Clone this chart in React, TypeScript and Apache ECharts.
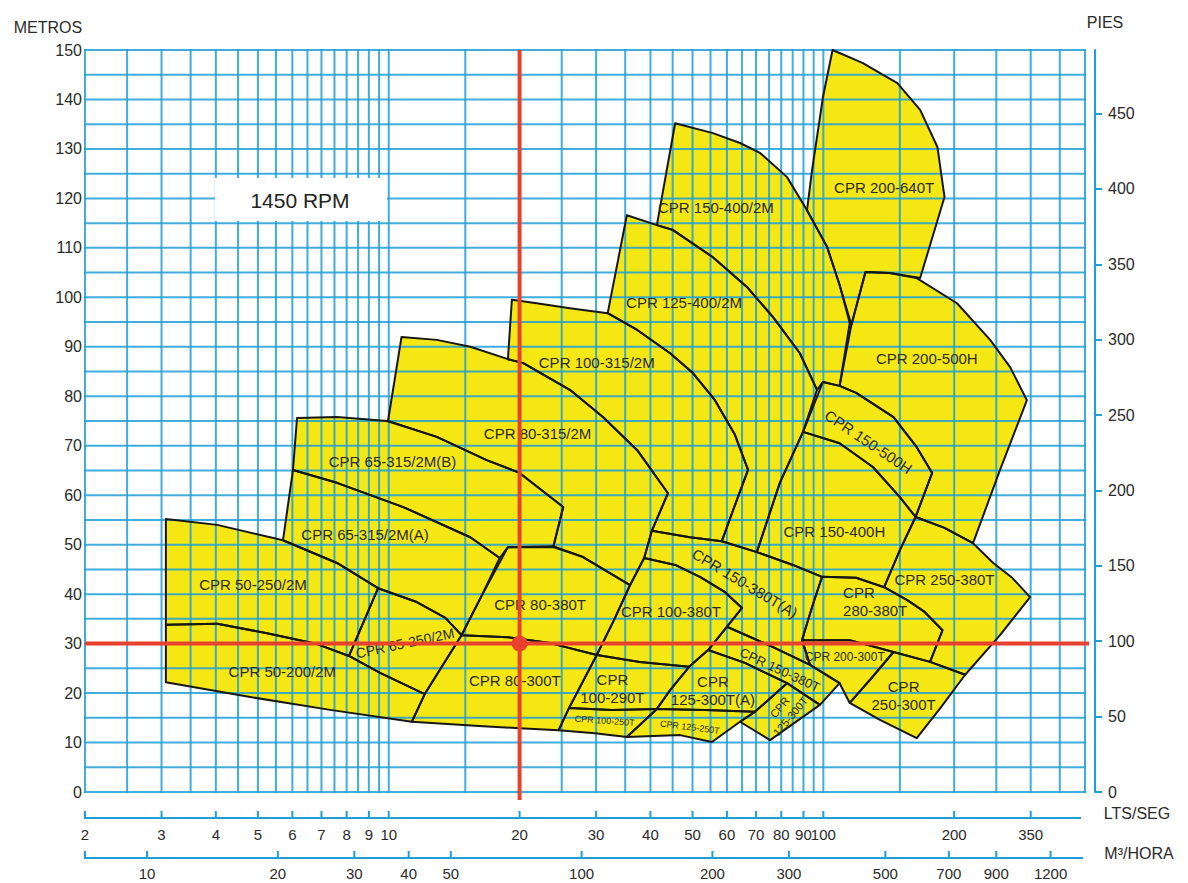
import React, { useEffect, useRef } from "react";
import * as echarts from "echarts";

const FONT = "Arial, 'Liberation Sans', Helvetica, sans-serif";
const BLUE = "#1f9fd8";
const YELLOW = "#f4e714";
const OUTLINE = "#161616";
const RED = "#e8412e";
const TEXT = "#2a2a2a";

// axis ranges: flow in l/s (log), head in metres
const flowMin = 2;
const flowMax = 400;
const headMin = 0;
const headMax = 150;
const feetPerMetre = 3.28084;
const m3hPerLps = 3.6;

const gridFlows = [2, 2.5, 3, 3.5, 4, 4.5, 5, 5.5, 6, 6.5, 7, 7.5, 8, 8.5, 9, 9.5, 10, 15, 20, 25, 30, 35, 40, 45, 50, 55, 60, 65, 70, 75, 80, 85, 90, 95, 100, 150, 200, 250, 300, 350, 400];
const gridHeads = [0, 5, 10, 15, 20, 25, 30, 35, 40, 45, 50, 55, 60, 65, 70, 75, 80, 85, 90, 95, 100, 105, 110, 115, 120, 125, 130, 135, 140, 145, 150];
const ltsTicks = [2, 3, 4, 5, 6, 7, 8, 9, 10, 20, 30, 40, 50, 60, 70, 80, 90, 100, 200, 300];
const ltsTickLabels = ["2", "3", "4", "5", "6", "7", "8", "9", "10", "20", "30", "40", "50", "60", "70", "80", "90", "100", "200", "350"];
const m3hTicks = [10, 20, 30, 40, 50, 100, 200, 300, 500, 700, 900, 1200];
const feetTicks = [0, 50, 100, 150, 200, 250, 300, 350, 400, 450];
const operatingPoint = [20, 30];

// pump coverage envelopes, [flow l/s, head m]
const cpr50_250_2M = [[3.07, 55.2], [4.03, 54.0], [5.71, 50.9], [7.6, 46.3], [9.45, 41.2], [8.1, 27.5], [6.84, 29.9], [5.25, 32.1], [4.03, 34.0], [3.07, 33.8]];
const cpr50_200_2M = [[3.07, 33.8], [4.03, 34.0], [5.25, 32.1], [6.84, 29.9], [8.1, 27.5], [9.55, 24.1], [12.1, 19.8], [11.3, 14.2], [7.33, 16.6], [4.8, 19.2], [3.07, 22.2]];
const cpr65_250_2M = [[9.45, 41.2], [11.6, 38.4], [13.5, 35.2], [14.7, 31.7], [12.1, 19.8], [9.55, 24.1], [8.1, 27.5]];
const cpr65_315_2MA = [[6.02, 65.1], [7.6, 62.5], [10.8, 57.6], [15.4, 51.5], [18.0, 47.3], [16.3, 39.4], [14.7, 31.7], [13.5, 35.2], [11.6, 38.4], [9.45, 41.2], [7.6, 46.3], [5.71, 50.9]];
const cpr65_315_2MB = [[6.15, 75.6], [7.6, 75.8], [9.91, 75.0], [12.9, 71.8], [16.8, 67.1], [20.0, 64.5], [25.2, 57.6], [23.9, 49.5], [18.8, 49.5], [18.0, 47.3], [15.4, 51.5], [10.8, 57.6], [7.6, 62.5], [6.02, 65.1]];
const cpr80_315_2M = [[10.7, 92.0], [12.9, 91.4], [15.4, 90.0], [18.8, 87.5], [20.4, 86.7], [26.1, 81.3], [31.1, 75.8], [37.3, 69.1], [43.9, 60.4], [40.3, 52.8], [38.7, 47.3], [35.9, 41.8], [28.0, 47.5], [23.9, 49.5], [25.2, 57.6], [20.0, 64.5], [16.8, 67.1], [12.9, 71.8], [9.96, 75.0]];
const cpr80_380T = [[18.8, 49.5], [23.9, 49.7], [28.0, 47.5], [35.9, 41.8], [33.0, 34.8], [30.1, 27.7], [23.5, 30.1], [18.8, 31.3], [14.7, 31.7], [16.3, 39.4]];
const cpr80_300T = [[14.7, 31.7], [18.8, 31.3], [23.5, 30.1], [30.1, 27.7], [26.0, 17.0], [24.6, 12.5], [20.0, 12.9], [16.5, 13.3], [11.3, 14.2], [12.1, 19.8]];
const cpr100_315_2M = [[19.2, 99.5], [21.9, 98.8], [26.1, 97.8], [31.9, 96.8], [37.3, 93.4], [44.4, 88.7], [50.1, 84.7], [56.3, 79.2], [62.6, 72.2], [67.1, 65.1], [62.6, 58.0], [58.4, 50.7], [49.3, 51.5], [40.3, 52.8], [43.9, 60.4], [37.3, 69.1], [31.1, 75.8], [26.1, 81.3], [20.4, 86.7], [18.8, 87.5]];
const cpr125_400_2M = [[35.3, 116.6], [41.4, 114.6], [45.1, 113.6], [55.7, 108.1], [66.7, 102.1], [76.6, 96.0], [88.3, 88.7], [96.7, 81.3], [89.8, 72.8], [79.4, 62.5], [70.3, 48.5], [58.4, 50.7], [62.6, 58.0], [67.1, 65.1], [62.6, 72.2], [56.3, 79.2], [50.1, 84.7], [44.4, 88.7], [37.3, 93.4], [31.9, 96.8]];
const cpr150_400_2M = [[45.6, 135.2], [55.7, 133.2], [64.3, 131.2], [71.5, 129.2], [82.5, 124.3], [91.7, 117.6], [102, 110.2], [109, 102.5], [115, 94.8], [109, 82.1], [99.8, 82.9], [96.7, 81.3], [88.3, 88.7], [76.6, 96.0], [66.7, 102.1], [55.7, 108.1], [45.1, 113.6], [41.4, 114.6]];
const cpr200_640T = [[105, 150], [123, 147.4], [148, 143.3], [167, 137.9], [183, 130.4], [190, 120.3], [178, 112.0], [167, 103.9], [142, 104.9], [125, 105.1], [116, 94.4], [109, 102.5], [102, 110.2], [91.7, 117.6], [94.2, 125.7], [99.8, 140.5]];
const cpr200_500H = [[125, 105.1], [142, 104.9], [164, 103.9], [203, 98.8], [242, 91.4], [269, 85.9], [294, 79.2], [255, 65.1], [221, 50.3], [190, 53.4], [163, 55.6], [178, 64.5], [164, 69.7], [145, 75.8], [119, 80.7], [109, 82.1], [116, 94.4]];
const cpr150_500H = [[99.8, 82.9], [109, 82.1], [119, 80.7], [145, 75.8], [164, 69.7], [178, 64.5], [163, 55.6], [150, 59.6], [130, 65.7], [109, 70.5], [89.8, 72.8]];
const cpr150_400H = [[89.8, 72.8], [109, 70.5], [130, 65.7], [150, 59.6], [163, 55.6], [150, 48.9], [138, 41.4], [119, 43.3], [99.3, 43.5], [85.1, 45.9], [70.3, 48.5], [79.4, 62.5]];
const cpr250_380T = [[163, 55.6], [190, 53.4], [221, 50.3], [246, 46.3], [272, 43.3], [299, 39.4], [255, 31.7], [212, 23.7], [176, 26.3], [188, 32.7], [171, 36.4], [156, 38.8], [138, 41.4], [150, 48.9]];
const cpr280_380T = [[99.3, 43.5], [119, 43.3], [138, 41.4], [156, 38.8], [171, 36.4], [188, 32.7], [176, 26.3], [145, 28.3], [115, 30.7], [89.3, 30.7], [94.2, 37.4]];
const cpr200_300T = [[89.3, 30.7], [115, 30.7], [145, 28.3], [129, 23.0], [115, 18.0], [109, 22.0], [93.2, 25.7]];
const cpr250_300T = [[145, 28.3], [176, 26.3], [212, 23.7], [186, 17.0], [164, 10.9], [135, 14.6], [115, 18.0], [129, 23.0]];
const cpr150_380TA = [[40.3, 52.8], [49.3, 51.5], [58.4, 50.7], [70.3, 48.5], [85.1, 45.9], [99.3, 43.5], [94.2, 37.4], [89.3, 30.7], [93.2, 25.7], [76.6, 29.3], [60.0, 33.4], [65.0, 37.2], [59.4, 40.4], [52.0, 43.5], [45.6, 45.9], [38.7, 47.3]];
const cpr100_380T = [[38.7, 47.3], [45.6, 45.9], [52.0, 43.5], [59.4, 40.4], [65.0, 37.2], [54.3, 28.7], [49.1, 25.3], [37.8, 26.3], [30.1, 27.7], [33.0, 34.8], [35.9, 41.8]];
const cpr100_290T = [[30.1, 27.7], [37.8, 26.3], [49.1, 25.3], [44.4, 20.6], [41.4, 16.8], [32.6, 16.6], [26.0, 17.0]];
const cpr100_250T = [[26.0, 17.0], [32.6, 16.6], [41.4, 16.8], [35.3, 11.1], [29.8, 11.9], [24.6, 12.5]];
const cpr150_380T = [[60.0, 33.4], [76.6, 29.3], [93.2, 25.7], [109, 22.0], [98.2, 17.6], [82.5, 22.0], [66.0, 26.1], [54.3, 28.7]];
const cpr125_300TA = [[54.3, 28.7], [66.0, 26.1], [82.5, 22.0], [69.6, 16.2], [53.4, 16.6], [41.4, 16.8], [44.4, 20.6], [49.1, 25.3]];
const cpr125_300T = [[82.5, 22.0], [98.2, 17.6], [75.4, 10.5], [64.3, 14.2], [69.6, 16.2]];
const cpr125_250T = [[41.4, 16.8], [53.4, 16.6], [69.6, 16.2], [64.3, 14.2], [55.4, 10.1], [46.8, 11.5], [35.3, 11.1]];

const regions = [
  cpr50_250_2M, cpr50_200_2M, cpr65_250_2M, cpr65_315_2MA, cpr65_315_2MB, cpr80_315_2M,
  cpr80_380T, cpr80_300T, cpr100_315_2M, cpr125_400_2M, cpr150_400_2M, cpr200_640T,
  cpr200_500H, cpr150_500H, cpr150_400H, cpr250_380T, cpr280_380T, cpr200_300T, cpr250_300T,
  cpr150_380TA, cpr100_380T, cpr100_290T, cpr100_250T, cpr150_380T, cpr125_300TA, cpr125_300T, cpr125_250T,
];

// region labels: text, [flow, head], rotation (deg), font size, align
const regionLabels: [string, number[], number, number, string][] = [
  ["CPR 200-640T", [138, 122.3], 0, 15, "center"],
  ["CPR 150-400/2M", [56.6, 118.1], 0, 15, "center"],
  ["CPR 125-400/2M", [47.8, 99.0], 0, 15, "center"],
  ["CPR 100-315/2M", [30.1, 86.9], 0, 15, "center"],
  ["CPR 200-500H", [173, 87.7], 0, 15, "center"],
  ["CPR 80-315/2M", [22.0, 72.4], 0, 15, "center"],
  ["CPR 150-500H", [127, 70.8], -34, 15, "center"],
  ["CPR 65-315/2M(B)", [10.2, 66.9], 0, 15, "center"],
  ["CPR 150-400H", [106, 52.6], 0, 15, "center"],
  ["CPR 65-315/2M(A)", [8.82, 52.0], 0, 15, "center"],
  ["CPR 250-380T", [190, 42.9], 0, 15, "center"],
  ["CPR 50-250/2M", [4.87, 42.0], 0, 15, "center"],
  ["CPR 80-380T", [22.3, 38.0], 0, 15, "center"],
  ["CPR 100-380T", [44.6, 36.4], 0, 15, "center"],
  ["CPR 150-380T(A)", [66.0, 42.2], -31, 15, "center"],
  ["CPR\n280-380T", [111, 38.6], 0, 15, "left"],
  ["CPR 65-250/2M", [10.9, 30.1], 12, 14, "center"],
  ["CPR 200-300T", [112, 27.3], 0, 12, "center"],
  ["CPR 50-200/2M", [5.69, 24.3], 0, 15, "center"],
  ["CPR 80-300T", [19.5, 22.6], 0, 15, "center"],
  ["CPR\n100-290T", [32.7, 21.0], 0, 15, "center"],
  ["CPR 150-380T", [79.4, 24.7], -25, 13, "center"],
  ["CPR\n125-300T(A)", [55.7, 20.6], 0, 15, "center"],
  ["CPR\n250-300T", [153, 19.6], 0, 15, "center"],
  ["CPR\n125-300T", [81.6, 16.2], 50, 11, "center"],
  ["CPR 100-250T", [31.4, 14.4], -4, 9, "center"],
  ["CPR 125-250T", [49.3, 13.1], -7, 9, "center"],
];

function buildOption(): any {
  const regionData = regions.map((pts, i) => [pts[0][0], pts[0][1], i]);

  const fills = {
    type: "custom", coordinateSystem: "cartesian2d", z: 1, silent: true,
    encode: { x: 0, y: 1 }, data: regionData,
    renderItem: (params: any, api: any) => ({
      type: "polygon",
      shape: { points: regions[params.dataIndex].map((p) => api.coord(p)) },
      style: { fill: YELLOW },
    }),
  };

  const outlines = {
    type: "custom", coordinateSystem: "cartesian2d", z: 3, silent: true,
    encode: { x: 0, y: 1 }, data: regionData,
    renderItem: (params: any, api: any) => ({
      type: "polygon",
      shape: { points: regions[params.dataIndex].map((p) => api.coord(p)) },
      style: { fill: "none", stroke: OUTLINE, lineWidth: 2, lineJoin: "round" },
    }),
  };

  const gridV = {
    type: "custom", coordinateSystem: "cartesian2d", z: 2, silent: true,
    encode: { x: 0, y: 1 }, data: gridFlows.map((q) => [q, headMin]),
    renderItem: (params: any, api: any) => {
      const q = gridFlows[params.dataIndex];
      const a = api.coord([q, headMin]);
      const b = api.coord([q, headMax]);
      return { type: "line", shape: { x1: a[0], y1: a[1] + 1, x2: b[0], y2: b[1] - 1 }, style: { stroke: BLUE, lineWidth: 2, opacity: 0.85 } };
    },
  };

  const gridH = {
    type: "custom", coordinateSystem: "cartesian2d", z: 2, silent: true,
    encode: { x: 0, y: 1 }, data: gridHeads.map((h) => [flowMin, h]),
    renderItem: (params: any, api: any) => {
      const h = gridHeads[params.dataIndex];
      const a = api.coord([flowMin, h]);
      const b = api.coord([flowMax, h]);
      return { type: "line", shape: { x1: a[0] - 1, y1: a[1], x2: b[0] + 1, y2: b[1] }, style: { stroke: BLUE, lineWidth: 2, opacity: 0.85 } };
    },
  };

  const labels = {
    type: "custom", coordinateSystem: "cartesian2d", z: 4, silent: true,
    encode: { x: 0, y: 1 }, data: regionLabels.map((l) => l[1]),
    renderItem: (params: any, api: any) => {
      const [text, pos, rot, size, align] = regionLabels[params.dataIndex];
      const c = api.coord(pos);
      return {
        type: "text", x: c[0], y: c[1], rotation: (rot * Math.PI) / 180,
        style: { text, fontSize: size, fontFamily: FONT, fill: TEXT, align, verticalAlign: "middle", lineHeight: size + 3 },
      };
    },
  };

  const crosshair = {
    type: "custom", coordinateSystem: "cartesian2d", z: 5, silent: true,
    encode: { x: 0, y: 1 }, data: [operatingPoint],
    renderItem: (params: any, api: any) => {
      const p = api.coord(operatingPoint);
      const top = api.coord([operatingPoint[0], headMax]);
      const bottom = api.coord([operatingPoint[0], headMin]);
      const left = api.coord([flowMin, operatingPoint[1]]);
      const right = api.coord([flowMax, operatingPoint[1]]);
      return {
        type: "group",
        children: [
          { type: "line", shape: { x1: top[0], y1: top[1], x2: bottom[0], y2: bottom[1] + 8 }, style: { stroke: RED, lineWidth: 4 } },
          { type: "line", shape: { x1: left[0], y1: left[1], x2: right[0] + 4, y2: right[1] }, style: { stroke: RED, lineWidth: 4 } },
          { type: "circle", shape: { cx: p[0], cy: p[1], r: 8 }, style: { fill: RED } },
        ],
      };
    },
  };

  const ltsAxis = {
    type: "custom", coordinateSystem: "cartesian2d", z: 3, silent: true,
    encode: { x: 0, y: 1 }, data: ltsTicks.map((q) => [q, headMin]),
    renderItem: (params: any, api: any) => {
      const i = params.dataIndex;
      const c = api.coord([ltsTicks[i], headMin]);
      const yLine = c[1] + 26;
      const children: any[] = [
        { type: "line", shape: { x1: c[0], y1: yLine - 7, x2: c[0], y2: yLine }, style: { stroke: BLUE, lineWidth: 2 } },
        { type: "text", x: c[0], y: yLine + 16, style: { text: ltsTickLabels[i], fontSize: 15, fontFamily: FONT, fill: TEXT, align: "center", verticalAlign: "middle" } },
      ];
      if (i === 0) {
        const r = api.coord([flowMax, headMin]);
        children.push({ type: "line", shape: { x1: c[0] - 1, y1: yLine, x2: r[0] - 4, y2: yLine }, style: { stroke: BLUE, lineWidth: 2 } });
      }
      return { type: "group", children };
    },
  };

  const m3hData = [flowMin, ...m3hTicks.map((m) => m / m3hPerLps)];
  const m3hAxis = {
    type: "custom", coordinateSystem: "cartesian2d", z: 3, silent: true,
    encode: { x: 0, y: 1 }, data: m3hData.map((q) => [q, headMin]),
    renderItem: (params: any, api: any) => {
      const i = params.dataIndex;
      const c = api.coord([m3hData[i], headMin]);
      const yLine = c[1] + 66;
      const children: any[] = [
        { type: "line", shape: { x1: c[0], y1: yLine - 7, x2: c[0], y2: yLine }, style: { stroke: BLUE, lineWidth: 2 } },
      ];
      if (i > 0) {
        children.push({ type: "text", x: c[0], y: yLine + 15, style: { text: String(m3hTicks[i - 1]), fontSize: 15, fontFamily: FONT, fill: TEXT, align: "center", verticalAlign: "middle" } });
      } else {
        const r = api.coord([flowMax, headMin]);
        children.push({ type: "line", shape: { x1: c[0] - 1, y1: yLine, x2: r[0] - 2, y2: yLine }, style: { stroke: BLUE, lineWidth: 2 } });
      }
      return { type: "group", children };
    },
  };

  const txt = (text: string, x: number, y: number, size: number, align = "center") => ({
    type: "text", x, y, z: 60,
    style: { text, fontSize: size, fontFamily: FONT, fill: TEXT, align, verticalAlign: "middle" },
  });

  return {
    animation: false,
    backgroundColor: "#ffffff",
    grid: { left: 85, right: 103, top: 50, bottom: 91, containLabel: false },
    xAxis: { type: "log", logBase: 10, min: flowMin, max: flowMax, show: false },
    yAxis: [
      {
        type: "value", min: headMin, max: headMax, interval: 10,
        axisLine: { show: false }, axisTick: { show: false }, splitLine: { show: false },
        axisLabel: { fontSize: 16, color: TEXT, margin: 3, fontFamily: FONT },
      },
      {
        type: "value", position: "right", offset: 10, min: 0, max: headMax * feetPerMetre, interval: 50,
        axisLine: { show: true, lineStyle: { color: BLUE, width: 2 } },
        axisTick: { show: true, length: 7, lineStyle: { color: BLUE, width: 2 }, customValues: feetTicks },
        axisLabel: {
          fontSize: 16, color: TEXT, margin: 13, fontFamily: FONT, customValues: feetTicks,
          formatter: (v: number) => (Math.abs(v % 50) < 1e-6 ? String(v) : ""),
        },
        splitLine: { show: false },
      },
    ],
    graphic: [
      { type: "rect", z: 50, shape: { x: 215, y: 178, width: 172, height: 43 }, style: { fill: "#ffffff" } },
      { type: "text", x: 300, y: 200, z: 51, style: { text: "1450 RPM", fontSize: 21, fontFamily: FONT, fill: "#222", align: "center", verticalAlign: "middle" } },
      txt("METROS", 48, 27, 16),
      txt("PIES", 1105, 22, 16),
      txt("LTS/SEG", 1137, 813, 16),
      txt("M³/HORA", 1139, 853, 16),
    ],
    series: [fills, gridV, gridH, outlines, labels, crosshair, ltsAxis, m3hAxis],
  };
}

export default function App() {
  const ref = useRef<HTMLDivElement>(null);
  useEffect(() => {
    if (!ref.current) return;
    const chart = echarts.init(ref.current, undefined, { renderer: "svg" });
    chart.setOption(buildOption());
    return () => chart.dispose();
  }, []);
  return <div ref={ref} style={{ position: "absolute", left: 0, top: 0, width: 1188, height: 883, background: "#fff" }} />;
}
